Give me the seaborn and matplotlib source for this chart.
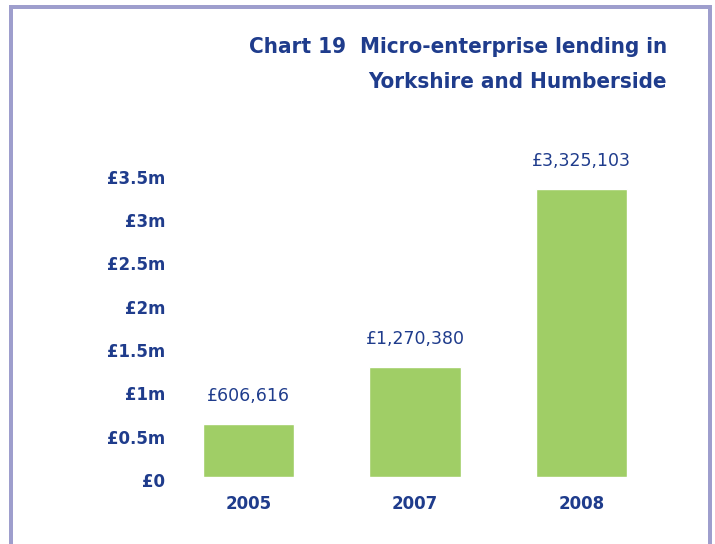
import matplotlib
matplotlib.use("Agg")
import matplotlib.pyplot as plt
from matplotlib.lines import Line2D
from matplotlib.transforms import ScaledTranslation
import seaborn as sns
import pandas as pd

# Lending totals by year (GBP)
years = ["2005", "2007", "2008"]
lending = [606616, 1270380, 3325103]
value_labels = ["£606,616", "£1,270,380", "£3,325,103"]
tick_values = [0, 500000, 1000000, 1500000, 2000000, 2500000, 3000000, 3500000]
tick_labels = ["£0", "£0.5m", "£1m", "£1.5m", "£2m", "£2.5m", "£3m", "£3.5m"]

NAVY = "#1f3c8c"
GREEN = "#a0ce66"
FRAME = "#9e9ecd"

sns.set_theme(style="white")
plt.rcParams["font.family"] = ["DejaVu Sans"]

df = pd.DataFrame({"year": years, "lending": lending})

W, H = 715, 544
fig = plt.figure(figsize=(W / 100, H / 100), dpi=100)
fig.patch.set_facecolor("white")

ax = fig.add_axes([165 / W, 1 - 477 / H, 500 / W, 346.4 / H])
sns.barplot(data=df, x="year", y="lending", color=GREEN, saturation=1,
            width=0.547, ax=ax)
ax.set_xlim(-0.5, 2.5)
ax.set_ylim(0, 4000000)
ax.set_xlabel("")
ax.set_ylabel("")
for s in ax.spines.values():
    s.set_visible(False)
ax.set_yticks(tick_values)
ax.set_yticklabels(tick_labels, fontsize=12, fontweight="bold", color=NAVY)
ax.tick_params(axis="y", length=0, pad=0)
ax.tick_params(axis="x", length=0, pad=13, labelsize=12, labelcolor=NAVY)
for lbl in ax.get_xticklabels():
    lbl.set_fontweight("bold")
for lbl in ax.get_yticklabels():
    lbl.set_transform(lbl.get_transform() + ScaledTranslation(0, -3 / 100, fig.dpi_scale_trans))
ax.grid(False)

# value annotations above each bar
for i, (v, txt) in enumerate(zip(lending, value_labels)):
    ax.annotate(txt, xy=(i, v), xytext=(0, 28), textcoords="offset pixels",
                ha="center", va="center", fontsize=12.5, color=NAVY)

# title, right aligned, condensed bold
title_kw = dict(ha="right", va="center", fontsize=16, fontweight="bold",
                fontstretch="condensed", color=NAVY, family=["DejaVu Sans"])
fig.text(667 / W, 1 - 47 / H, "Chart 19  Micro-enterprise lending in", **title_kw)
fig.text(667 / W, 1 - 82 / H, "Yorkshire and Humberside", **title_kw)

# page frame
lw = 4 * 72 / 100
fig.add_artist(Line2D([11 / W, 11 / W], [0, 1 - 6.5 / H], color=FRAME, lw=lw,
                      transform=fig.transFigure, solid_capstyle="projecting"))
fig.add_artist(Line2D([11 / W, 710 / W], [1 - 6.5 / H, 1 - 6.5 / H], color=FRAME,
                      lw=lw, transform=fig.transFigure, solid_capstyle="projecting"))
fig.add_artist(Line2D([710 / W, 710 / W], [0, 1 - 6.5 / H], color=FRAME, lw=lw,
                      transform=fig.transFigure, solid_capstyle="projecting"))

fig.savefig("out.png", dpi=100)
